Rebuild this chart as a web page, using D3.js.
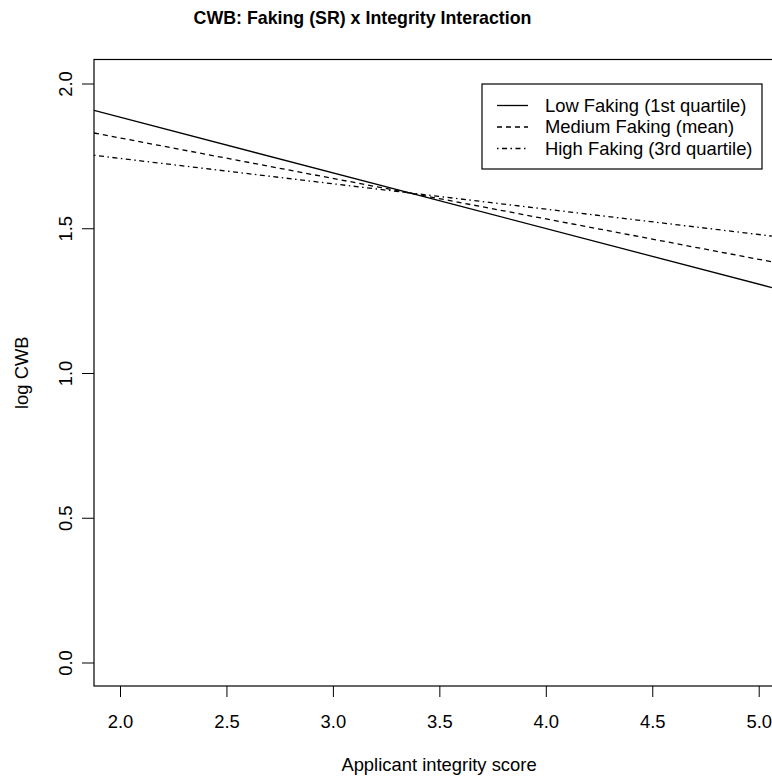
<!DOCTYPE html>
<html lang="en">
<head>
  <meta charset="UTF-8">
  <title>CWB: Faking (SR) x Integrity Interaction</title>
  <style>
    body {
      margin: 0;
      padding: 0;
      background-color: #fff;
      font-family: "Liberation Sans", Arial, Helvetica, sans-serif;
    }

    .tick text {
      font-size: 18.4px;
      fill: #000;
    }

    .tick line {
      stroke: #000;
    }

    .line {
      fill: none;
      stroke: #000;
      stroke-width: 1.3px;
    }
  </style>
</head>
<body>
  <div class="chart"></div>

  <script src="https://d3js.org/d3.v7.min.js"></script>
  <script>
    // Values read at the left and right edges of the visible plot region
    const integrity = [1.878, 5.062];
    const lowFaking = [1.907, 1.295];
    const mediumFaking = [1.829, 1.384];
    const highFaking = [1.752, 1.473];

    const seriesNames = ["Low Faking (1st quartile)", "Medium Faking (mean)", "High Faking (3rd quartile)"];
    const seriesDash = [null, "5,4", "1.5,3.5,5,3.5"];

    const xTicks = [2.0, 2.5, 3.0, 3.5, 4.0, 4.5, 5.0];
    const yTicks = [0.0, 0.5, 1.0, 1.5, 2.0];

    const W = 772, H = 776;
    const plot = { left: 94, top: 59.5, right: 790, bottom: 686 };

    const svg = d3.select(".chart")
      .append("svg")
        .attr("width", W)
        .attr("height", H);

    // Scales (2.0 -> 120px, 5.0 -> 758.7px; 0.0 -> 662.5px, 2.0 -> 83.5px)
    const xScale = d3.scaleLinear()
      .domain([2.0, 5.0])
      .range([120, 758.7]);

    const yScale = d3.scaleLinear()
      .domain([0.0, 2.0])
      .range([662.5, 83.5]);

    svg.append("clipPath")
      .attr("id", "clip")
      .append("rect")
        .attr("x", plot.left)
        .attr("y", plot.top)
        .attr("width", plot.right - plot.left)
        .attr("height", plot.bottom - plot.top);

    // Lines
    const data = [lowFaking, mediumFaking, highFaking].map((vals, i) => ({
      name: seriesNames[i],
      dash: seriesDash[i],
      values: integrity.map((x, j) => ({ x: x, y: vals[j] }))
    }));

    const lineGenerator = d3.line()
      .x(d => xScale(d.x))
      .y(d => yScale(d.y));

    svg.append("g")
      .attr("clip-path", "url(#clip)")
      .selectAll("path")
      .data(data)
      .join("path")
        .attr("class", "line")
        .attr("d", d => lineGenerator(d.values))
        .attr("stroke-dasharray", d => d.dash);

    // Box
    svg.append("rect")
      .attr("x", plot.left)
      .attr("y", plot.top)
      .attr("width", plot.right - plot.left)
      .attr("height", plot.bottom - plot.top)
      .attr("fill", "none")
      .attr("stroke", "#000")
      .attr("stroke-width", 1.2);

    // Axes
    const xAxis = svg.append("g")
      .attr("transform", `translate(0,${plot.bottom})`)
      .call(d3.axisBottom(xScale).tickValues(xTicks).tickFormat(d3.format(".1f")).tickSize(11).tickSizeOuter(0));
    xAxis.select(".domain").remove();
    xAxis.selectAll(".tick text")
      .attr("y", 42)
      .attr("dy", 0);

    const yAxis = svg.append("g")
      .attr("transform", `translate(${plot.left},0)`)
      .call(d3.axisLeft(yScale).tickValues(yTicks).tickFormat(d3.format(".1f")).tickSize(12).tickSizeOuter(0));
    yAxis.select(".domain").remove();
    yAxis.selectAll(".tick text")
      .attr("transform", "rotate(-90)")
      .attr("text-anchor", "middle")
      .attr("x", 0)
      .attr("y", -22)
      .attr("dy", 0);

    svg.selectAll(".tick text").attr("font-family", null).attr("font-size", null);

    // Title
    svg.append("text")
      .attr("x", 362.5)
      .attr("y", 24)
      .attr("text-anchor", "middle")
      .attr("font-weight", "bold")
      .attr("font-size", "17.8px")
      .text("CWB: Faking (SR) x Integrity Interaction");

    // X axis label
    svg.append("text")
      .attr("x", 439)
      .attr("y", 771)
      .attr("text-anchor", "middle")
      .attr("font-size", "18.4px")
      .text("Applicant integrity score");

    // Y axis label
    svg.append("text")
      .attr("transform", "rotate(-90)")
      .attr("x", -372.7)
      .attr("y", 28)
      .attr("text-anchor", "middle")
      .attr("font-size", "18.4px")
      .text("log CWB");

    // Legend
    const legend = svg.append("g");
    legend.append("rect")
      .attr("x", 482)
      .attr("y", 84)
      .attr("width", 280)
      .attr("height", 85)
      .attr("fill", "#fff")
      .attr("stroke", "#000")
      .attr("stroke-width", 1.2);

    const rows = legend.selectAll(".row")
      .data(data)
      .join("g")
        .attr("class", "row")
        .attr("transform", (d, i) => `translate(0,${105.5 + i * 21.5})`);

    rows.append("line")
      .attr("x1", 497)
      .attr("x2", 528)
      .attr("stroke", "#000")
      .attr("stroke-width", 1.3)
      .attr("stroke-dasharray", d => d.dash);

    rows.append("text")
      .attr("x", 545)
      .attr("dy", "0.35em")
      .attr("font-size", "18.4px")
      .text(d => d.name);
  </script>
</body>
</html>
